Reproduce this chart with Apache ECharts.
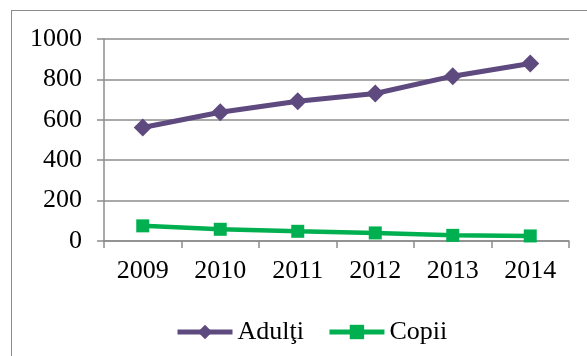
<!DOCTYPE html>
<html>
<head>
<meta charset="utf-8">
<script src="https://cdn.jsdelivr.net/npm/echarts@6/dist/echarts.min.js"></script>
<style>
  html, body { margin: 0; padding: 0; background: #fff; }
  #frame {
    position: absolute; left: 11px; top: 10px;
    width: 580px; height: 360px;
    border: 1px solid #8c8c8c; box-sizing: border-box;
  }
  #chart { position: absolute; left: 0; top: 0; width: 587px; height: 356px; }
</style>
</head>
<body>
<div id="frame"></div>
<div id="chart"></div>
<script>
  // date
  var ani = ['2009', '2010', '2011', '2012', '2013', '2014'];
  var adulti = [562, 637, 692, 730, 816, 879];
  var copii = [75, 58, 48, 40, 28, 25];

  var chart = echarts.init(document.getElementById('chart'));
  var font = '"Liberation Serif", "Times New Roman", serif';
  var gri = '#8c8c8c';

  var option = {
    animation: false,
    grid: { left: 104, right: 18, top: 39, bottom: 115 },
    legend: {
      top: 314,
      left: 170,
      itemWidth: 55,
      itemHeight: 18,
      itemGap: 23,
      textStyle: { fontFamily: font, fontSize: 26, color: '#000' },
      data: [
        { name: 'Adulţi', lineStyle: { width: 5 } },
        { name: 'Copii', lineStyle: { width: 5 } }
      ]
    },
    xAxis: {
      type: 'category',
      data: ani,
      boundaryGap: true,
      axisLine: { lineStyle: { color: gri, width: 1.5 } },
      axisTick: { show: true, length: 7, lineStyle: { color: gri, width: 1.5 } },
      axisLabel: { margin: 17, fontFamily: font, fontSize: 26, color: '#000' }
    },
    yAxis: {
      type: 'value',
      min: 0,
      max: 1000,
      interval: 200,
      axisLine: { show: true, lineStyle: { color: gri, width: 1.5 } },
      axisTick: { show: true, length: 7, lineStyle: { color: gri, width: 1.5 } },
      axisLabel: {
        margin: 22, fontFamily: font, fontSize: 26, color: '#000',
        formatter: function (v) { return String(v); }
      },
      splitLine: { lineStyle: { color: gri, width: 1.5 } }
    },
    series: [
      {
        name: 'Adulţi',
        type: 'line',
        data: adulti,
        symbol: 'diamond',
        symbolSize: 18,
        itemStyle: { color: '#5f4a7f' },
        lineStyle: { color: '#5f4a7f', width: 5 }
      },
      {
        name: 'Copii',
        type: 'line',
        data: copii,
        symbol: 'rect',
        symbolSize: 13,
        itemStyle: { color: '#00b050' },
        lineStyle: { color: '#00b050', width: 4.5 }
      }
    ]
  };

  chart.setOption(option);
</script>
</body>
</html>
